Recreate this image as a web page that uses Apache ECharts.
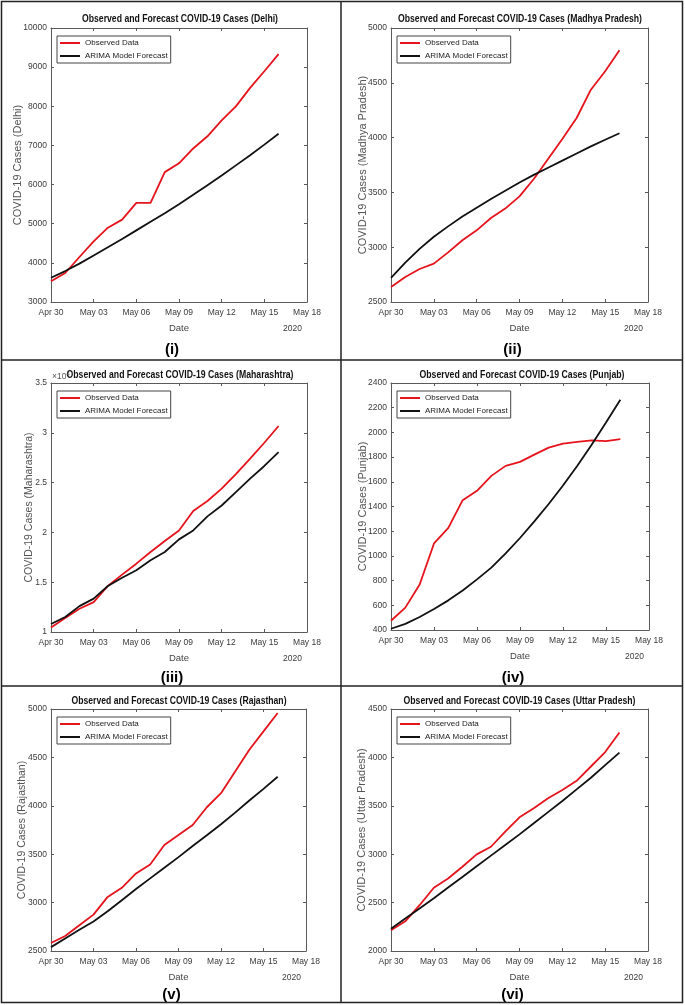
<!DOCTYPE html>
<html>
<head>
<meta charset="utf-8">
<script src="https://cdn.jsdelivr.net/npm/echarts@6/dist/echarts.min.js"></script>
<style>
html,body{margin:0;padding:0;background:#fff;}
#chart{width:685px;height:1005px;}
</style>
</head>
<body>
<div id="chart"></div>
<script>
// ---- data ----
const days = [0,1,2,3,4,5,6,7,8,9,10,11,12,13,14,15,16]; // days since Apr 30, 2020
const dateTicks = ['Apr 30','May 03','May 06','May 09','May 12','May 15','May 18'];
const regions = ['Delhi','Madhya Pradesh','Maharashtra','Punjab','Rajasthan','Uttar Pradesh'];
const panelLabels = ['(i)','(ii)','(iii)','(iv)','(v)','(vi)'];
const seriesNames = ['Observed Data','ARIMA Model Forecast'];

const delhiObserved = [3528,3741,4150,4549,4898,5104,5532,5532,6318,6542,6923,7233,7639,7998,8470,8895,9333];
const delhiForecast = [3620,3790,3980,4190,4400,4610,4830,5050,5270,5500,5740,5980,6230,6490,6750,7020,7300];

const mpObserved = [2637,2728,2801,2850,2953,3063,3154,3266,3352,3464,3622,3805,3987,4179,4437,4605,4796];
const mpForecast = [2720,2860,2985,3095,3190,3280,3360,3440,3515,3590,3660,3725,3790,3855,3920,3980,4040];

const mahaObserved = [10440,11400,12340,13000,14620,15760,16860,18030,19140,20200,22150,23150,24390,25860,27400,29000,30680];
const mahaForecast = [10800,11500,12600,13350,14620,15450,16200,17200,18030,19300,20200,21610,22700,24050,25400,26670,28070];

const punjabObserved = [475,581,769,1101,1227,1451,1527,1648,1729,1761,1820,1877,1909,1923,1936,1930,1945];
const punjabForecast = [410,450,505,570,640,720,810,905,1020,1145,1280,1420,1570,1730,1900,2080,2265];

const rajObserved = [2583,2655,2766,2876,3059,3153,3301,3394,3595,3698,3802,3985,4130,4354,4579,4769,4959];
const rajForecast = [2540,2630,2720,2805,2910,3025,3140,3250,3360,3470,3585,3695,3810,3930,4055,4175,4300];

const upObserved = [2214,2307,2473,2653,2749,2870,2998,3077,3233,3381,3474,3578,3664,3758,3906,4055,4258];
const upForecast = [2230,2335,2440,2545,2655,2765,2875,2985,3095,3205,3320,3435,3550,3670,3790,3920,4050];

// y-axis ranges per panel
const yMin = [3000,2500,10000,400,2500,2000];
const yMax = [10000,5000,35000,2400,5000,4500];
const yStep = [1000,500,5000,200,500,500];

const observed = [delhiObserved,mpObserved,mahaObserved,punjabObserved,rajObserved,upObserved];
const forecast = [delhiForecast,mpForecast,mahaForecast,punjabForecast,rajForecast,upForecast];

// ---- layout ----
const grids = [
  {left:51, top:28, width:256, height:274, yGap:27.5, labelY:350, titleY:19, titleW:196, titleX:180},
  {left:391, top:28, width:257, height:274, yGap:22.5, labelY:350, titleY:19, titleW:244, titleX:520},
  {left:51, top:383, width:256, height:249, yGap:16, labelY:678, titleY:375, titleW:227, titleX:180},
  {left:391, top:383, width:258, height:247, yGap:22.5, labelY:678, titleY:375, titleW:205, titleX:522},
  {left:51, top:709, width:255, height:242, yGap:23.5, labelY:995, titleY:701, titleW:215, titleX:179},
  {left:391, top:709, width:257, height:242, yGap:23.5, labelY:995, titleY:701, titleW:232, titleX:519.5}
];

const SANS = "'Liberation Sans',Arial,sans-serif";
const AXIS = '#5a5a5a';
const TICKTXT = '#3a3a3a';
const RED = '#e5131b';
const BLACK = '#111111';

const measureCtx = document.createElement('canvas').getContext('2d');
function textWidth(txt, font){ measureCtx.font = font; return measureCtx.measureText(txt).width; }

const option = {
  animation:false,
  backgroundColor:'#ffffff',
  grid:[], xAxis:[], yAxis:[], series:[], legend:[], graphic:[]
};

grids.forEach((g,i)=>{
  option.grid.push({left:g.left, top:g.top, width:g.width, height:g.height, show:false, containLabel:false});
});
// bottom x axes
grids.forEach((g,i)=>{
  option.xAxis.push({
    type:'value', gridIndex:i, position:'bottom', min:0, max:18, interval:3,
    axisLine:{show:true, onZero:false, lineStyle:{color:AXIS, width:1}},
    axisTick:{show:true, inside:true, length:3, lineStyle:{color:AXIS}},
    axisLabel:{show:true, margin:6, fontSize:8.5, fontFamily:SANS, color:TICKTXT,
      formatter:(v)=>dateTicks[Math.round(v/3)] || ''},
    splitLine:{show:false},
    name:'Date', nameLocation:'middle', nameGap:21, nameMoveOverlap:false,
    nameTextStyle:{fontSize:9.5, fontFamily:SANS, color:'#444'}
  });
});
// top mirror x axes
grids.forEach((g,i)=>{
  option.xAxis.push({
    type:'value', gridIndex:i, position:'top', min:0, max:18, interval:3,
    axisLine:{show:true, onZero:false, lineStyle:{color:AXIS, width:1}},
    axisTick:{show:true, inside:true, length:3, lineStyle:{color:AXIS}},
    axisLabel:{show:false}, splitLine:{show:false}
  });
});
// left y axes
grids.forEach((g,i)=>{
  option.yAxis.push({
    type:'value', gridIndex:i, position:'left', min:yMin[i], max:yMax[i], interval:yStep[i],
    axisLine:{show:true, onZero:false, lineStyle:{color:AXIS, width:1}},
    axisTick:{show:true, inside:true, length:3, lineStyle:{color:AXIS}},
    axisLabel:{show:true, margin:4, fontSize:8.5, fontFamily:SANS, color:TICKTXT,
      formatter:(v)=> i===2 ? String(v/10000) : String(v)},
    splitLine:{show:false},
    name:'COVID-19 Cases ('+regions[i]+')', nameLocation:'middle', nameGap:g.yGap, nameMoveOverlap:false,
    nameTextStyle:{fontSize:i===2||i===4?10.5:11, fontFamily:SANS, color:'#555'}
  });
});
// right mirror y axes
grids.forEach((g,i)=>{
  option.yAxis.push({
    type:'value', gridIndex:i, position:'right', min:yMin[i], max:yMax[i], interval:yStep[i],
    axisLine:{show:true, onZero:false, lineStyle:{color:AXIS, width:1}},
    axisTick:{show:true, inside:true, length:3, lineStyle:{color:AXIS}},
    axisLabel:{show:false}, splitLine:{show:false}
  });
});
// series
grids.forEach((g,i)=>{
  option.series.push({
    name:seriesNames[0], type:'line', xAxisIndex:i, yAxisIndex:i,
    data:days.map((d,k)=>[d, observed[i][k]]),
    showSymbol:false, symbol:'none', lineStyle:{color:RED, width:1.8}, itemStyle:{color:RED}
  });
  option.series.push({
    name:seriesNames[1], type:'line', xAxisIndex:i, yAxisIndex:i,
    data:days.map((d,k)=>[d, forecast[i][k]]),
    showSymbol:false, symbol:'none', lineStyle:{color:BLACK, width:1.8}, itemStyle:{color:BLACK}
  });
  option.legend.push({
    data:seriesNames, orient:'vertical', left:g.left+6, top:g.top+8,
    itemWidth:20, itemHeight:2, itemGap:5, icon:'rect',
    padding:[3,3,3,3], borderColor:'#444', borderWidth:1, backgroundColor:'#fff',
    textStyle:{fontSize:8, fontFamily:SANS, color:'#222'},
    selectedMode:false
  });
  // title (horizontally condensed to match the reference)
  const ttl = 'Observed and Forecast COVID-19 Cases ('+regions[i]+')';
  const tFont = 'bold 11px '+SANS;
  const sx = g.titleW / textWidth(ttl, tFont);
  option.graphic.push({type:'text', x:g.titleX, y:g.titleY, scaleX:sx, scaleY:1,
    style:{text:ttl, textAlign:'center', textVerticalAlign:'middle', font:tFont, fill:'#111'}});
  // 2020 label
  option.graphic.push({type:'text', x:g.left+g.width-5, y:g.top+g.height+27,
    style:{text:'2020', textAlign:'right', textVerticalAlign:'middle', font:'8.5px '+SANS, fill:TICKTXT}});
  // panel label
  option.graphic.push({type:'text', x:g.left+g.width/2-7, y:g.labelY,
    style:{text:panelLabels[i], textAlign:'center', textVerticalAlign:'middle', font:'bold 15px '+SANS, fill:'#000'}});
});
// exponent marker for Maharashtra
option.graphic.push({type:'text', x:grids[2].left+1, y:grids[2].top-6,
  style:{rich:{a:{font:'8.5px '+SANS, fill:'#555'}, s:{font:'6px '+SANS, fill:'#555', verticalAlign:'top', padding:[0,0,6,0]}},
    text:'{a|×10}{s|4}', textAlign:'left', textVerticalAlign:'middle'}});
// frame lines
option.graphic.push({type:'rect', shape:{x:1.5, y:1.5, width:681, height:1001}, style:{fill:'none', stroke:'#222', lineWidth:1.5}});
option.graphic.push({type:'line', shape:{x1:341, y1:1, x2:341, y2:1003}, style:{stroke:'#222', lineWidth:1.5}});
option.graphic.push({type:'line', shape:{x1:1, y1:360, x2:683, y2:360}, style:{stroke:'#222', lineWidth:1.5}});
option.graphic.push({type:'line', shape:{x1:1, y1:686, x2:683, y2:686}, style:{stroke:'#222', lineWidth:1.5}});

const chart = echarts.init(document.getElementById('chart'), null, {renderer:'canvas'});
chart.setOption(option);
</script>
</body>
</html>
